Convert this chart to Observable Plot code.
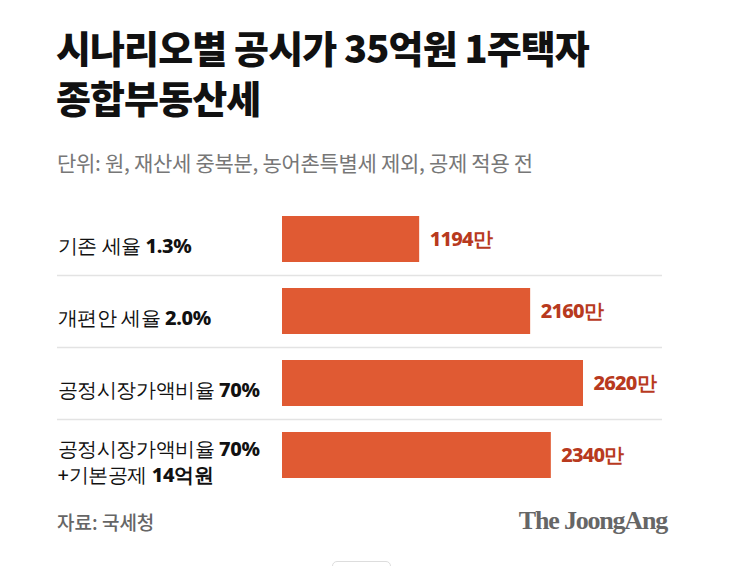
<!DOCTYPE html>
<html><head><meta charset="utf-8">
<script src="https://cdn.jsdelivr.net/npm/d3@7"></script>
<script src="https://cdn.jsdelivr.net/npm/@observablehq/plot@0.6"></script>
<style>
html,body{margin:0;padding:0;background:#fff;width:743px;height:566px;overflow:hidden;position:relative;font-family:"Noto Sans CJK KR","Noto Sans",sans-serif;}
.title{position:absolute;left:56px;font-size:38px;font-weight:900;line-height:46px;letter-spacing:-0.9px;color:#111;white-space:nowrap;}
.t1{top:24px;}
.t2{top:74px;}
.sub{position:absolute;left:57px;top:148px;font-size:21px;line-height:28px;letter-spacing:-0.3px;color:#777;}
#chart{position:absolute;left:0;top:190px;}
.src{position:absolute;left:57px;top:509px;font-size:19px;line-height:26px;color:#666;letter-spacing:0px;font-weight:500;}
.logo{position:absolute;right:76px;top:506px;font-family:"Liberation Serif","DejaVu Serif",serif;font-weight:700;font-size:26px;line-height:30px;color:#666;letter-spacing:-1.2px;}
.box{position:absolute;left:332px;top:561px;width:57px;height:12px;border:1px solid #ddd;border-radius:5px;}
</style></head>
<body>
<div class="title t1">시나리오별 공시가 35억원 1주택자</div>
<div class="title t2">종합부동산세</div>
<div class="sub">단위: 원, 재산세 중복분, 농어촌특별세 제외, 공제 적용 전</div>
<div id="chart"></div>
<div class="src">자료: 국세청</div>
<div class="logo">The JoongAng</div>
<div class="box"></div>
<script>
const categories = ["기존 세율 1.3%", "개편안 세율 2.0%", "공정시장가액비율 70%", "공정시장가액비율 70% +기본공제 14억원"];
const labelLines = [
  [["기존 세율 ", "1.3%"]],
  [["개편안 세율 ", "2.0%"]],
  [["공정시장가액비율 ", "70%"]],
  [["공정시장가액비율 ", "70%"], ["+기본공제 ", "14억원"]]
];
const values = [1194, 2160, 2620, 2340];
const valueLabels = ["1194만", "2160만", "2620만", "2340만"];

const data = categories.map((c, i) => ({cat: c, value: values[i], label: valueLabels[i], idx: i}));

const plot = Plot.plot({
  width: 743,
  height: 310,
  marginTop: 13,
  marginBottom: 9,
  marginLeft: 57,
  marginRight: 81,
  x: {domain: [0, 2620], range: [282, 583], axis: null},
  y: {domain: categories, paddingInner: 0.36, paddingOuter: 0.18, axis: null},
  marks: [
    Plot.ruleY(categories.slice(1), {y: d => d, dy: -36, stroke: "#e3e3e3", strokeWidth: 1.5}),
    Plot.barX(data, {x: "value", y: "cat", fill: "#e05a33"}),
    Plot.text(data, {x: "value", y: "cat", text: "label", textAnchor: "start", dx: 10, fill: "#b83a1e", fontWeight: 800, fontSize: 20, className: "vals"}),
    Plot.text(data, {y: "cat", frameAnchor: "left", text: "cat", textAnchor: "start", fill: "#111", fontSize: 20, className: "labels"})
  ]
});
document.getElementById("chart").appendChild(plot);

d3.select(plot).selectAll("g.vals text").style("letter-spacing", "-0.8px");
d3.select(plot).selectAll("g.labels text").each(function(d, j) {
  const t = d3.select(this);
  const lines = labelLines[j];
  t.text(null).style("letter-spacing", "-0.4px").attr("font-weight", 500);
  const n = lines.length;
  lines.forEach((ln, k) => {
    const off = (k - (n - 1) / 2) * 1.3;
    t.append("tspan").attr("x", t.attr("x") || 0).attr("dy", k === 0 ? `${off + 0.35}em` : "1.3em").text(ln[0]);
    t.append("tspan").attr("font-weight", 800).text(ln[1]);
  });
  t.attr("dy", null);
});
</script>
</body></html>
